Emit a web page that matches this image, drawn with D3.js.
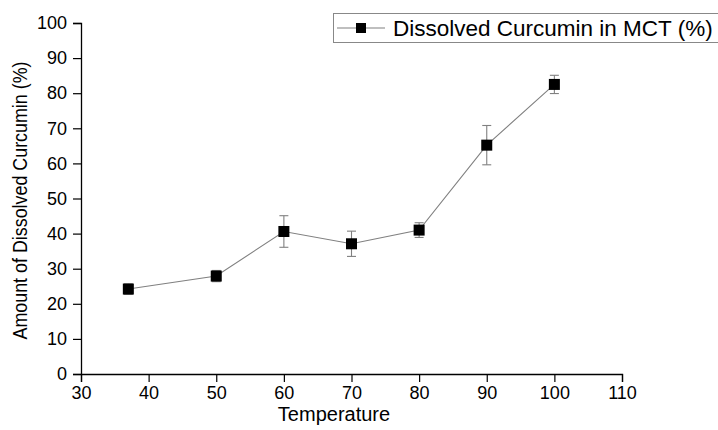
<!DOCTYPE html>
<html><head><meta charset="utf-8">
<script src="https://cdn.jsdelivr.net/npm/d3@7/dist/d3.min.js"></script>
<style>body{margin:0;background:#fff}svg{display:block}text{font-family:"Liberation Sans",Arial,sans-serif;fill:#000}</style>
</head><body>
<script>
const temperatures = [37, 50, 60, 70, 80, 90, 100];
const dissolved = [24.2, 27.9, 40.6, 37.1, 41.0, 65.2, 82.5];
const errors = [1.5, 1.6, 4.5, 3.6, 2.1, 5.6, 2.6];
const xTicks = [30, 40, 50, 60, 70, 80, 90, 100, 110];
const yTicks = [0, 10, 20, 30, 40, 50, 60, 70, 80, 90, 100];
const seriesName = "Dissolved Curcumin in MCT (%)";
const xTitle = "Temperature";
const yTitle = "Amount of Dissolved Curcumin (%)";

const W = 718, H = 430;
const m = {left: 81, right: 96, top: 23, bottom: 56};
const svg = d3.select("body").append("svg").attr("width", W).attr("height", H);
const x = d3.scaleLinear().domain([30, 110]).range([m.left, W - m.right]);
const y = d3.scaleLinear().domain([0, 100]).range([H - m.bottom, m.top]);

// minor ticks
const gx = svg.append("g").attr("transform", `translate(0,${y(0)})`);
gx.call(d3.axisBottom(x).tickValues(d3.range(35, 110, 10)).tickSize(4).tickFormat(""));
gx.call(d3.axisBottom(x).tickValues(xTicks).tickSize(8).tickPadding(4).tickFormat(d3.format("d")));
const gy = svg.append("g").attr("transform", `translate(${x(30)},0)`);
gy.call(d3.axisLeft(y).tickValues(d3.range(5, 100, 10)).tickSize(4).tickFormat(""));
gy.call(d3.axisLeft(y).tickValues(yTicks).tickSize(8).tickPadding(6).tickFormat(d3.format("d")));
svg.selectAll(".domain").attr("stroke", "#000").attr("stroke-width", 1.3);
svg.selectAll(".tick line").attr("stroke", "#000").attr("stroke-width", 1.2);
svg.selectAll(".tick text").style("font-size", "18px").style("font-family", '"Liberation Sans",Arial,sans-serif');

// titles
svg.append("text").attr("x", 334).attr("y", 421).attr("text-anchor", "middle")
  .style("font-size", "20px").text(xTitle);
svg.append("text").attr("transform", `translate(27,${(y(0) + y(100)) / 2 + 2}) rotate(-90)`)
  .attr("text-anchor", "middle").style("font-size", "21px")
  .attr("textLength", 278).attr("lengthAdjust", "spacingAndGlyphs").text(yTitle);

const data = temperatures.map((t, i) => ({t, v: dissolved[i], e: errors[i]}));

// line
svg.append("path").datum(data).attr("fill", "none").attr("stroke", "#808080").attr("stroke-width", 1.1)
  .attr("d", d3.line().x(d => x(d.t)).y(d => y(d.v)));

// error bars
const eb = svg.append("g").attr("stroke", "#808080").attr("stroke-width", 1.1);
data.forEach(d => {
  eb.append("line").attr("x1", x(d.t)).attr("x2", x(d.t)).attr("y1", y(d.v - d.e)).attr("y2", y(d.v + d.e));
  [d.v - d.e, d.v + d.e].forEach(v => eb.append("line").attr("x1", x(d.t) - 4.5).attr("x2", x(d.t) + 4.5).attr("y1", y(v)).attr("y2", y(v)));
});

// markers
svg.append("g").selectAll("rect").data(data).join("rect")
  .attr("x", d => x(d.t) - 5.5).attr("y", d => y(d.v) - 5.5).attr("width", 11).attr("height", 11).attr("fill", "#000");

// legend
const lg = svg.append("g");
lg.append("rect").attr("x", 333.5).attr("y", 13.5).attr("width", 400).attr("height", 29).attr("fill", "#fff").attr("stroke", "#888");
lg.append("line").attr("x1", 337).attr("x2", 385).attr("y1", 28).attr("y2", 28).attr("stroke", "#808080").attr("stroke-width", 1.1);
lg.append("rect").attr("x", 361 - 5).attr("y", 28 - 5).attr("width", 10).attr("height", 10).attr("fill", "#000");
lg.append("text").attr("x", 393).attr("y", 36).style("font-size", "22.5px").text(seriesName);
</script>
</body></html>
